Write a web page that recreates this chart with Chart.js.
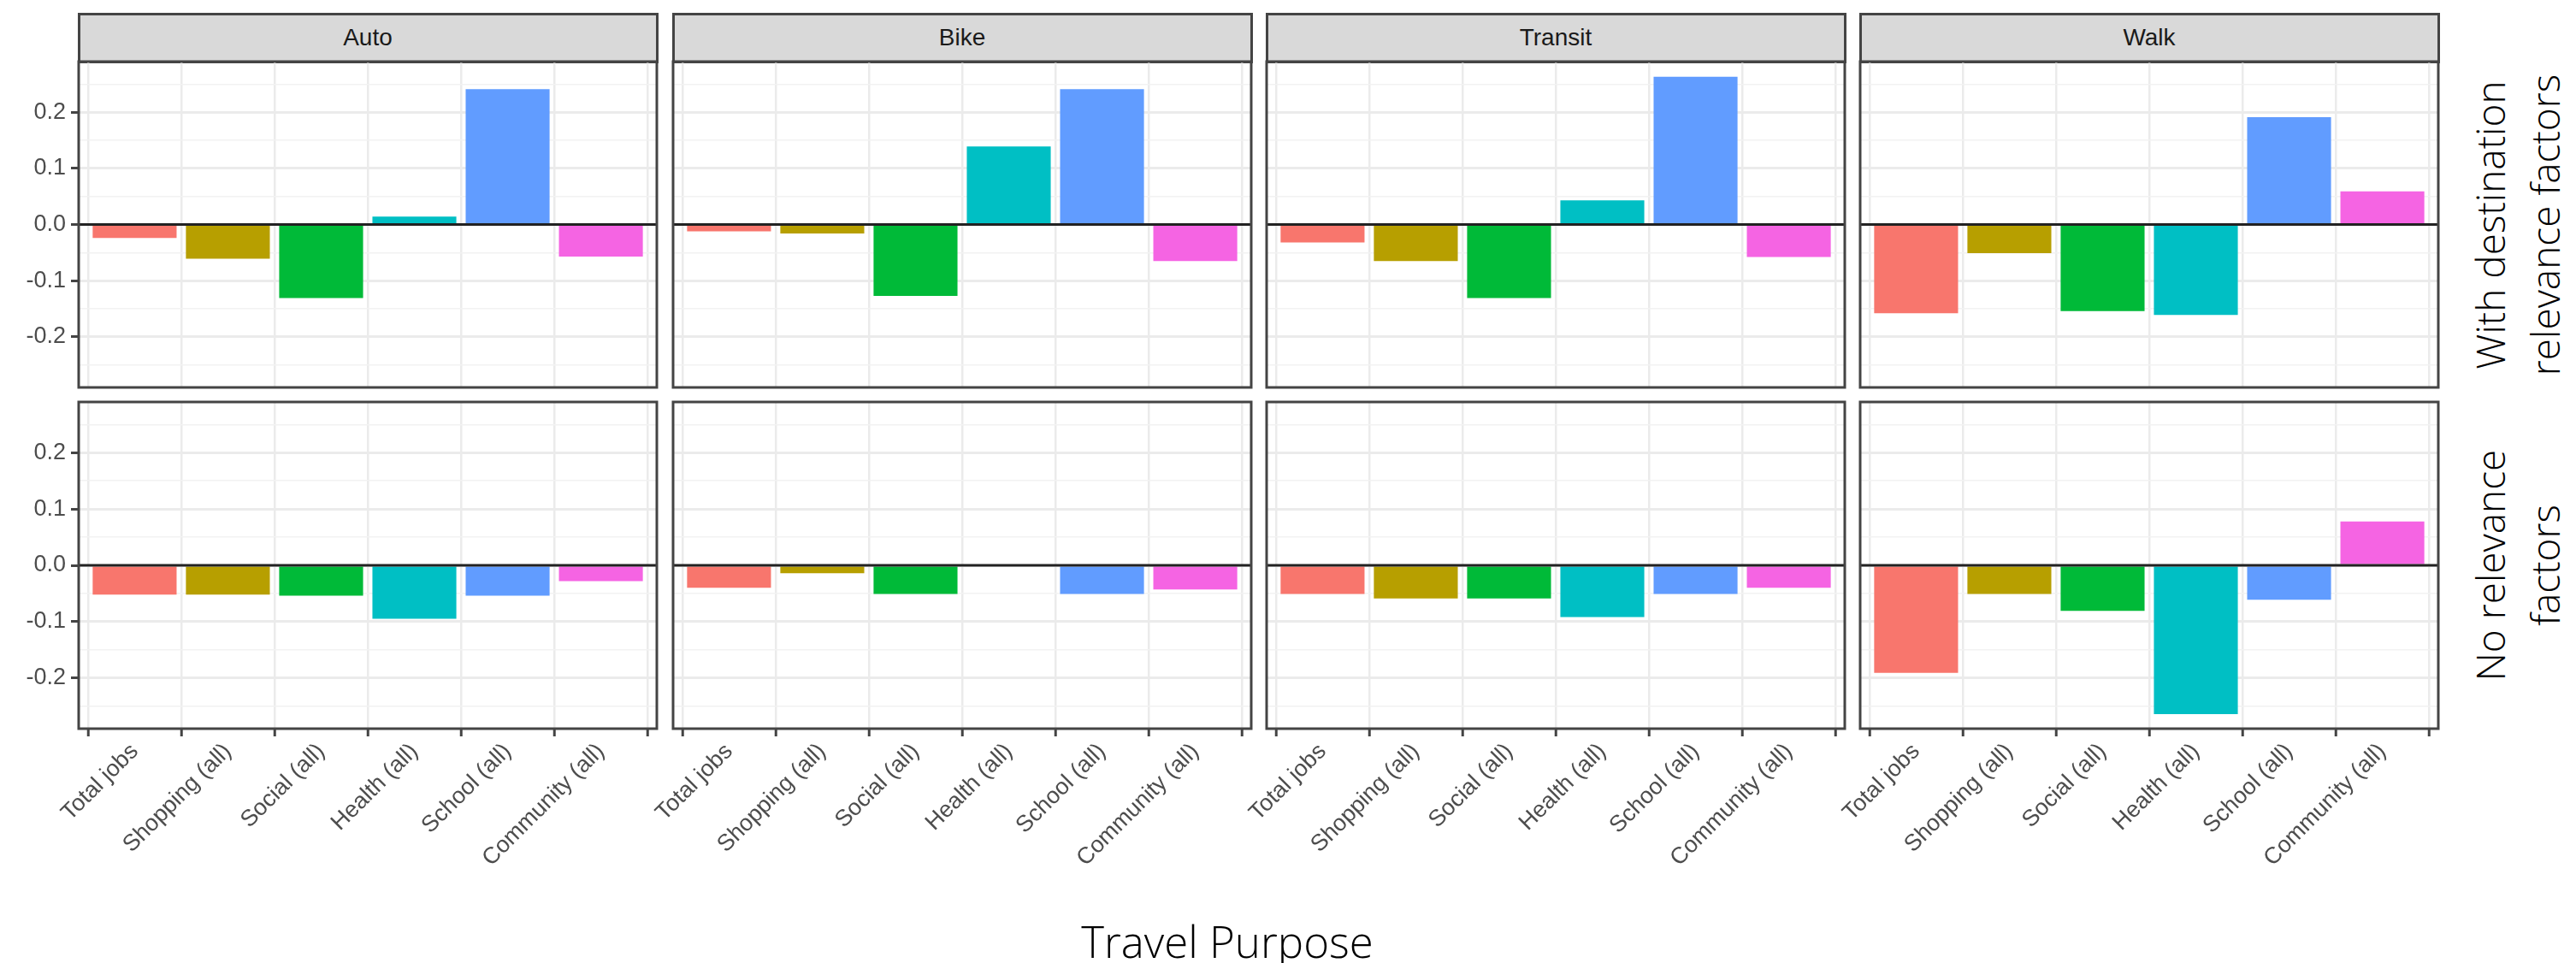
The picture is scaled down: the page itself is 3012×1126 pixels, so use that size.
<!DOCTYPE html>
<html>
<head>
<meta charset="utf-8">
<script src="https://cdn.jsdelivr.net/npm/chart.js@4.4.1/dist/chart.umd.min.js"></script>
<style>
  html, body { margin: 0; padding: 0; background: #fff; }
  body { width: 3012px; height: 1126px; position: relative; overflow: hidden; }
  canvas { position: absolute; }
  .strip {
    position: absolute; box-sizing: border-box;
    background: #d9d9d9; border: 3px solid #444;
    font-family: 'Liberation Sans', Arial, sans-serif;
    font-size: 28px; color: #1a1a1a;
    display: flex; align-items: center; justify-content: center;
  }
  .rowlab {
    position: absolute; white-space: nowrap; text-align: center;
    font-family: 'Open Sans', sans-serif; font-weight: 300;
    font-size: 46px; line-height: 64px; color: #000;
    transform: translate(-50%, -50%) rotate(-90deg);
  }
  #xtitle {
    position: absolute; left: 1435px; top: 1065px; white-space: nowrap;
    transform: translateX(-50%);
    font-family: 'Open Sans', sans-serif; font-weight: 300;
    font-size: 51px; line-height: 70px; color: #000;
  }
</style>
</head>
<body>
<div id="xtitle">Travel Purpose</div>
<script>
// Facet grid: travel mode across, relevance setting down.
const modes = ['Auto', 'Bike', 'Transit', 'Walk'];
const rowLabels = [['With destination', 'relevance factors'], ['No relevance', 'factors']];
const categories = ['Total jobs', 'Shopping (all)', 'Social (all)', 'Health (all)', 'School (all)', 'Community (all)'];
const barColors = ['#F8766D', '#B79F00', '#00BA38', '#00BFC4', '#619CFF', '#F564E3'];

// With destination relevance factors
const autoWith = [-0.024, -0.061, -0.131, 0.014, 0.241, -0.057];
const bikeWith = [-0.012, -0.016, -0.127, 0.139, 0.241, -0.065];
const transitWith = [-0.032, -0.065, -0.131, 0.043, 0.263, -0.058];
const walkWith = [-0.158, -0.051, -0.154, -0.161, 0.191, 0.059];

// No relevance factors (Bike / Health has no bar)
const autoNone = [-0.052, -0.052, -0.054, -0.095, -0.054, -0.028];
const bikeNone = [-0.040, -0.014, -0.051, null, -0.051, -0.043];
const transitNone = [-0.051, -0.059, -0.059, -0.092, -0.051, -0.040];
const walkNone = [-0.191, -0.051, -0.081, -0.264, -0.061, 0.078];

const yTicks = [-0.25, -0.2, -0.15, -0.1, -0.05, 0, 0.05, 0.1, 0.15, 0.2, 0.25];
const yMin = -0.29;
const yMax = 0.29;
const refValue = 0;

const rows = [
  [autoWith, bikeWith, transitWith, walkWith],
  [autoNone, bikeNone, transitNone, walkNone],
];

// page geometry (panel boxes)
const colLeft = [92, 787, 1481, 2175];
const panelW = 676;
const rowTop = [72, 470];
const panelH = [381, 382];
const yAxisW = 92;
const xAxisH = 240;
const extraLeft = 120;
const pad = 4;

const tickFont = { family: "'Liberation Sans', Arial, sans-serif", size: 27 };
const isMajor = v => Math.abs(v * 10 - Math.round(v * 10)) < 1e-6;

// no automatic edge padding from tick labels: panels must line up exactly
function noEdgePadding(s) {
  s.paddingTop = 0;
  s.paddingBottom = 0;
  s.paddingLeft = 0;
  s.paddingRight = 0;
}

// frame around the panel plus the reference line at zero
const panelFrame = {
  id: 'panelFrame',
  afterDatasetsDraw(chart) {
    const { ctx, chartArea: a, scales } = chart;
    const y0 = scales.y.getPixelForValue(refValue);
    ctx.save();
    ctx.strokeStyle = '#222';
    ctx.lineWidth = 3;
    ctx.beginPath();
    ctx.moveTo(a.left, y0);
    ctx.lineTo(a.right, y0);
    ctx.stroke();
    ctx.strokeStyle = '#444';
    ctx.strokeRect(a.left, a.top, a.right - a.left, a.bottom - a.top);
    ctx.restore();
  },
};

function makePanel(r, c) {
  const values = rows[r][c];
  const leftPad = c === 0 ? 0 : extraLeft;
  const canvasLeft = c === 0 ? 0 : colLeft[c] - extraLeft;
  const width = (c === 0 ? colLeft[0] : extraLeft) + panelW + pad;
  const height = pad + panelH[r] + (r === 1 ? xAxisH : pad);

  const canvas = document.createElement('canvas');
  canvas.width = width;
  canvas.height = height;
  canvas.style.left = canvasLeft + 'px';
  canvas.style.top = (rowTop[r] - pad) + 'px';
  canvas.style.width = width + 'px';
  canvas.style.height = height + 'px';
  document.body.appendChild(canvas);

  return new Chart(canvas.getContext('2d'), {
    type: 'bar',
    data: {
      datasets: [{
        data: values.map((v, i) => ({ x: i + 1, y: v })),
        backgroundColor: barColors,
        borderWidth: 0,
        barPercentage: 0.9,
        categoryPercentage: 1.0,
      }],
    },
    options: {
      responsive: false,
      animation: false,
      devicePixelRatio: 1,
      layout: {
        autoPadding: false,
        padding: { left: leftPad, right: pad, top: pad, bottom: r === 1 ? 0 : pad },
      },
      plugins: { legend: { display: false }, tooltip: { enabled: false } },
      scales: {
        x: {
          type: 'linear',
          min: 0.4,
          max: 6.6,
          offset: false,
          afterBuildTicks: s => { s.ticks = categories.map((_, i) => ({ value: i + 1 })); },
          afterFit: s => {
            s.height = r === 1 ? xAxisH : 0;
            noEdgePadding(s);
          },
          border: { display: false },
          grid: {
            color: '#ebebeb',
            lineWidth: 2.5,
            drawTicks: r === 1,
            tickLength: 9,
            tickColor: '#444',
            tickWidth: 3,
          },
          ticks: {
            display: r === 1,
            autoSkip: false,
            minRotation: 45,
            maxRotation: 45,
            padding: 2,
            color: '#4d4d4d',
            font: tickFont,
            callback: v => categories[v - 1],
          },
        },
        y: {
          min: yMin,
          max: yMax,
          afterBuildTicks: s => { s.ticks = yTicks.map(v => ({ value: v })); },
          afterFit: s => {
            s.width = c === 0 ? yAxisW : 0;
            noEdgePadding(s);
          },
          border: { display: false },
          grid: {
            color: ctx => (ctx.tick && isMajor(ctx.tick.value) ? '#ebebeb' : '#f2f2f2'),
            lineWidth: ctx => (ctx.tick && isMajor(ctx.tick.value) ? 3 : 1.5),
            drawTicks: c === 0,
            tickLength: 9,
            tickWidth: 3,
            tickColor: ctx => (ctx.tick && isMajor(ctx.tick.value) ? '#444' : 'rgba(0,0,0,0)'),
          },
          ticks: {
            display: c === 0,
            autoSkip: false,
            padding: 6,
            color: '#4d4d4d',
            font: tickFont,
            callback: v => (isMajor(v) ? v.toFixed(1) : ''),
          },
        },
      },
    },
    plugins: [panelFrame],
  });
}

// strip headers on top of each column
modes.forEach((m, c) => {
  const d = document.createElement('div');
  d.className = 'strip';
  d.textContent = m;
  d.style.left = (colLeft[c] - 1.5) + 'px';
  d.style.top = '15px';
  d.style.width = (panelW + 3) + 'px';
  d.style.height = (rowTop[0] - 15 + 1.5) + 'px';
  document.body.appendChild(d);
});

// row labels on the right
rowLabels.forEach((lines, r) => {
  const d = document.createElement('div');
  d.className = 'rowlab';
  d.innerHTML = lines.join('<br>');
  d.style.left = '2943px';
  d.style.top = (rowTop[r] + panelH[r] / 2) + 'px';
  document.body.appendChild(d);
});

for (let r = 0; r < 2; r++) {
  for (let c = 0; c < 4; c++) {
    makePanel(r, c);
  }
}
</script>
</body>
</html>
